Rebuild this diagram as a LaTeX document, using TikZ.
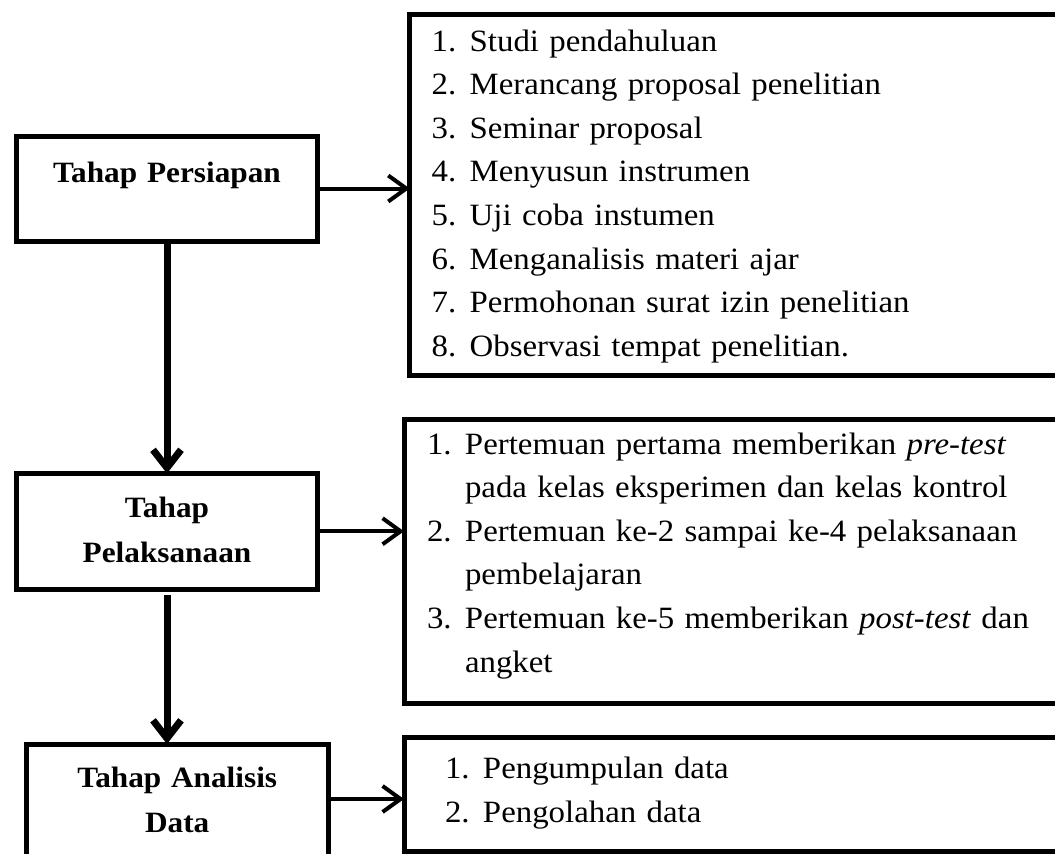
\documentclass[tikz,border=0pt]{standalone}
\usepackage{fontspec}
\setmainfont{Liberation Serif}[FakeStretch=1.06]
\usetikzlibrary{arrows.meta}
\newcommand{\listnum}[1]{\makebox[38pt][l]{#1}}
\newcommand{\contline}{\hspace*{38pt}}
\begin{document}
\begin{tikzpicture}[x=1pt,y=-1pt,
  stage/.style={draw, line width=5pt, outer sep=0pt, inner sep=0pt, anchor=north west,
    align=center, font=\bfseries\fontsize{29.5}{45.5}\selectfont},
  listbox/.style={draw, line width=5pt, outer sep=0pt, inner ysep=0pt, anchor=north west,
    align=left, font=\fontsize{31}{43.6}\selectfont},
  sidearrow/.style={line width=4pt, line cap=round, line join=round,
    -{Straight Barb[length=18pt,width=26pt]}},
  downarrow/.style={line width=7pt, line join=round,
    -{Straight Barb[length=18pt,width=28pt]}}]
\fill[white] (0,0) rectangle (1055,854);
\useasboundingbox (0,0) rectangle (1055,854);
\clip (0,0) rectangle (1055,854);

% left stage boxes
\node[stage, text width=301pt, text height=46pt, text depth=59pt] (p1) at (16.5,136) {Tahap Persiapan};
\node[stage, text width=301pt, text height=43.5pt, text depth=72pt] (p2) at (16.5,473.5) {Tahap\\Pelaksanaan};
\node[stage, text width=301.5pt, text height=43pt, text depth=150pt] (p3) at (26.5,744) {Tahap Analisis\\Data};

% right list boxes
\node[listbox, inner xsep=22pt, text width=650pt, text height=37pt, text depth=324.5pt] (r1) at (409.7,14) {%
\listnum{1.}Studi pendahuluan\\
\listnum{2.}Merancang proposal penelitian\\
\listnum{3.}Seminar proposal\\
\listnum{4.}Menyusun instrumen\\
\listnum{5.}Uji coba instumen\\
\listnum{6.}Menganalisis materi ajar\\
\listnum{7.}Permohonan surat izin penelitian\\
\listnum{8.}Observasi tempat penelitian.};

\node[listbox, inner xsep=23pt, text width=650pt, text height=35pt, text depth=249pt] (r2) at (404,419) {%
\listnum{1.}Pertemuan pertama memberikan \textit{pre-test}\\
\contline pada kelas eksperimen dan kelas kontrol\\
\listnum{2.}Pertemuan ke-2 sampai ke-4 pelaksanaan\\
\contline pembelajaran\\
\listnum{3.}Pertemuan ke-5 memberikan \textit{post-test} dan\\
\contline angket};

\node[listbox, inner xsep=41pt, text width=620pt, text height=41pt, text depth=73pt] (r3) at (404,737.5) {%
\listnum{1.}Pengumpulan data\\
\listnum{2.}Pengolahan data};

% connectors
\draw[sidearrow] (p1.east) -- (p1.east -| r1.west);
\draw[sidearrow] (p2.east) -- (p2.east -| r2.west);
\coordinate (a3) at ([yshift=-55pt]p3.north east);
\draw[sidearrow] (a3) -- (a3 -| r3.west);
\draw[downarrow] (p1.south) -- (p2.north);
\draw[downarrow, shorten <=6pt] (p2.south) -- (p2.south |- p3.north);
\end{tikzpicture}
\end{document}
